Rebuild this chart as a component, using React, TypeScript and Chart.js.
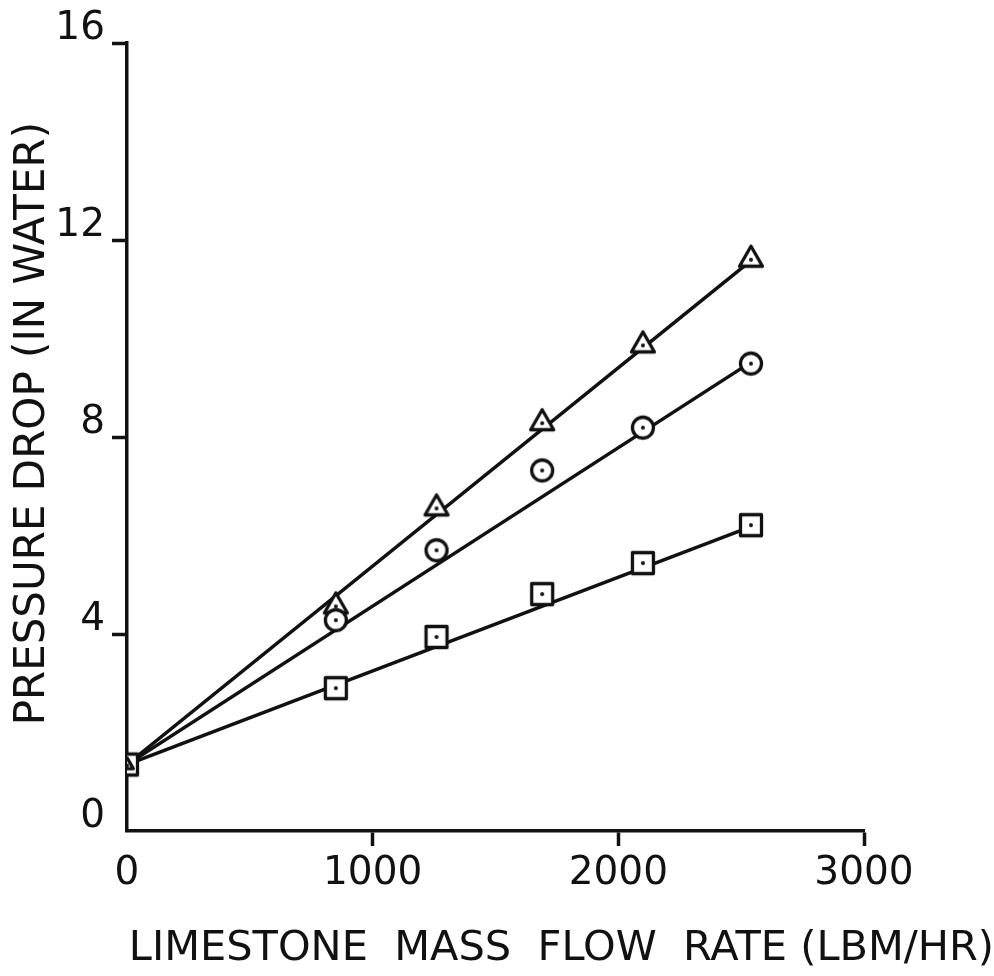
import React, { useEffect, useRef } from "react";
import { Chart, registerables } from "chart.js";

Chart.register(...registerables);

// Limestone mass flow rate (lbm/hr)
const flowRate = [0, 850, 1260, 1690, 2100, 2540];
// Pressure drop (in water) for each symbol series
const triangleDrop = [1.35, 4.58, 6.57, 8.3, 9.88, 11.62];
const circleDrop = [1.35, 4.28, 5.7, 7.32, 8.19, 9.49];
const squareDrop = [1.35, 2.9, 3.94, 4.81, 5.44, 6.21];
// Straight fit lines drawn through each series
const fitFlow = [0, 2540];
const triangleFit = [1.35, 11.58];
const circleFit = [1.35, 9.52];
const squareFit = [1.35, 6.18];
// Axis ticks
const xTicks = [0, 1000, 2000, 3000];
const yTicks = [0, 4, 8, 12, 16];

const INK = "#111111";
const FONT = "'DejaVu Sans', sans-serif";

function makeMarker(kind: string, scale = 1): HTMLCanvasElement {
  const c = document.createElement("canvas");
  c.width = 32;
  c.height = 32;
  const g = c.getContext("2d")!;
  g.lineWidth = 3.3;
  g.strokeStyle = INK;
  g.fillStyle = "#ffffff";
  g.lineJoin = "round";
  g.beginPath();
  if (kind === "circle") {
    g.arc(16, 16, 10.5 * scale, 0, Math.PI * 2);
  } else if (kind === "square") {
    g.rect(16 - 10.5 * scale, 16 - 10.5 * scale, 21 * scale, 21 * scale);
  } else {
    g.moveTo(16, 16 - 12.5 * scale);
    g.lineTo(16 + 11.5 * scale, 16 + 7.5 * scale);
    g.lineTo(16 - 11.5 * scale, 16 + 7.5 * scale);
    g.closePath();
  }
  g.fill();
  g.stroke();
  g.beginPath();
  g.arc(16, kind === "triangle" ? 17 : 16, 2, 0, Math.PI * 2);
  g.fillStyle = INK;
  g.fill();
  return c;
}

const pts = (xs: number[], ys: number[]) => xs.map((x, i) => ({ x, y: ys[i] }));

export default function App() {
  const ref = useRef<HTMLCanvasElement | null>(null);

  useEffect(() => {
    document.body.style.margin = "0";
    document.body.style.background = "#ffffff";
    const canvas = ref.current;
    if (!canvas) return;

    const tri = makeMarker("triangle");
    const triSmall = makeMarker("triangle", 0.55);
    const circ = makeMarker("circle");
    const sq = makeMarker("square");

    const fitStyle = {
      showLine: true,
      borderColor: INK,
      borderWidth: 3.5,
      pointRadius: 0,
      pointHoverRadius: 0,
      fill: false,
      order: 10,
    };

    const TITLE_SIZE = 41.5;
    const titleBox = TITLE_SIZE * 1.2 + 2;

    const chart = new Chart(canvas, {
      type: "scatter",
      data: {
        datasets: [
          { ...fitStyle, label: "triangle fit", data: pts(fitFlow, triangleFit) },
          { ...fitStyle, label: "circle fit", data: pts(fitFlow, circleFit) },
          { ...fitStyle, label: "square fit", data: pts(fitFlow, squareFit) },
          {
            label: "circle",
            data: pts(flowRate, circleDrop),
            pointStyle: (ctx: any) => (ctx.dataIndex === 0 ? false : circ),
            order: 1,
          } as any,
          {
            label: "triangle",
            data: pts(flowRate, triangleDrop),
            pointStyle: (ctx: any) => (ctx.dataIndex === 0 ? triSmall : tri),
            order: 2,
          } as any,
          {
            label: "square",
            data: pts(flowRate, squareDrop),
            pointStyle: sq,
            order: 3,
          } as any,
        ],
      },
      options: {
        animation: false,
        responsive: false,
        devicePixelRatio: 1,
        layout: { padding: { top: 43, right: 0, bottom: 0, left: 0 } },
        plugins: {
          legend: { display: false },
          tooltip: { enabled: false },
          title: {
            display: true,
            position: "bottom",
            align: "end",
            text: "LIMESTONE  MASS  FLOW  RATE (LBM/HR)",
            color: INK,
            font: { family: FONT, size: TITLE_SIZE, weight: "normal" },
            padding: { top: 0, bottom: 2 },
          },
        },
        scales: {
          x: {
            type: "linear",
            min: 0,
            max: 3000,
            afterBuildTicks: (s: any) => {
              s.ticks = xTicks.map((v) => ({ value: v }));
            },
            afterFit: (s: any) => {
              s.height = 145 - titleBox;
            },
            border: { display: true, color: INK, width: 3.5 },
            grid: {
              drawOnChartArea: false,
              drawTicks: true,
              tickLength: 15,
              tickWidth: 3.5,
              tickColor: (ctx: any) =>
                ctx.tick && ctx.tick.value === 0 ? "rgba(0,0,0,0)" : INK,
            },
            ticks: {
              color: INK,
              padding: 4,
              maxRotation: 0,
              font: { family: FONT, size: 39 },
              callback: (v: any) => String(v),
            },
          },
          y: {
            type: "linear",
            min: 0,
            max: 16,
            afterBuildTicks: (s: any) => {
              s.ticks = yTicks.map((v) => ({ value: v }));
            },
            afterFit: (s: any) => {
              s.width = 127;
            },
            border: { display: true, color: INK, width: 3.5 },
            grid: {
              drawOnChartArea: false,
              drawTicks: true,
              tickLength: 15,
              tickWidth: 3.5,
              tickColor: (ctx: any) =>
                ctx.tick && ctx.tick.value === 0 ? "rgba(0,0,0,0)" : INK,
            },
            ticks: {
              color: INK,
              padding: 7,
              labelOffset: -14,
              font: { family: FONT, size: 39 },
              callback: (v: any) => String(v),
            },
            title: {
              display: true,
              text: "  PRESSURE DROP (IN WATER)",
              color: INK,
              font: { family: FONT, size: 42 },
              padding: { top: 8, bottom: 0 },
            },
          },
          // empty spacer on the right so the plot area ends at 3000
          spacer: {
            type: "linear",
            position: "right",
            display: true,
            min: 0,
            max: 16,
            afterFit: (s: any) => {
              s.width = 130;
            },
            border: { display: false },
            grid: { display: false },
            ticks: { display: false },
          },
        },
      },
    });

    return () => chart.destroy();
  }, []);

  return (
    <div style={{ width: 994, height: 976, background: "#ffffff" }}>
      <canvas ref={ref} width={994} height={976} style={{ display: "block" }} />
    </div>
  );
}
